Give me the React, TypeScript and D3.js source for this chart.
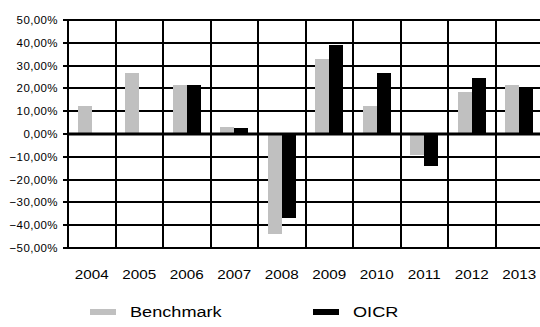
import React, { useEffect } from "react";
import * as d3 from "d3";

const years = ["2004", "2005", "2006", "2007", "2008", "2009", "2010", "2011", "2012", "2013"];
const seriesNames = ["Benchmark", "OICR"];
const benchmark: (number | null)[] = [12.3, 26.9, 21.5, 3.0, -44.0, 32.7, 12.3, -9.2, 18.6, 21.5];
const oicr: (number | null)[] = [null, null, 21.5, 2.8, -36.7, 39.0, 26.6, -14.0, 24.7, 19.6];
const yTicks = [-50, -40, -30, -20, -10, 0, 10, 20, 30, 40, 50];
const colors = ["#c0c0c0", "#000000"];

const W = 540;
const H = 327;
const left = 68;
const right = 543;
const top = 20;
const bottom = 248;

export default function App() {
  useEffect(() => {
    document.body.style.margin = "0";
  }, []);

  const x = d3.scaleBand<string>().domain(years).range([left, right]).paddingInner(0).paddingOuter(0);
  const y = d3.scaleLinear().domain([-50, 50]).range([bottom, top]);
  const yr = (v: number) => Math.round(y(v));
  const bw = x.bandwidth();
  const x1 = d3.scaleBand<string>().domain(seriesNames).range([(bw - 28) / 2, (bw + 28) / 2]);
  const fmt = (v: number) => d3.format(".2f")(v).replace(".", ",") + "%";
  const data = [benchmark, oicr];
  const font = "'Liberation Sans', Arial, sans-serif";

  return (
    <svg width={W} height={H} style={{ position: "absolute", left: 0, top: 0, background: "#fff" }}>
      {yTicks.map((t) => (
        <line key={"h" + t} x1={left - 5} x2={W} y1={yr(t)} y2={yr(t)} stroke="#000" strokeWidth={2} />
      ))}
      {years.map((yy) => (
        <line
          key={"v" + yy}
          x1={Math.round(x(yy)!)}
          x2={Math.round(x(yy)!)}
          y1={top}
          y2={bottom}
          stroke="#000"
          strokeWidth={2}
        />
      ))}
      {data.map((arr, si) =>
        arr.map((v, i) =>
          v === null ? null : (
            <rect
              key={si + "-" + i}
              x={Math.round(x(years[i])! + x1(seriesNames[si])!)}
              width={Math.round(x1.bandwidth())}
              y={yr(Math.max(0, v))}
              height={Math.abs(yr(v) - yr(0))}
              fill={colors[si]}
            />
          )
        )
      )}
      <line x1={left} x2={W} y1={yr(0)} y2={yr(0)} stroke="#000" strokeWidth={3} />
      {yTicks.map((t) => (
        <text
          key={"l" + t}
          x={58}
          y={yr(t)}
          dy="0.35em"
          textAnchor="end"
          fontFamily={font}
          fontSize={11.5}
          letterSpacing={0.4}
          fill="#000"
        >
          {fmt(t)}
        </text>
      ))}
      {years.map((yy) => (
        <text
          key={"x" + yy}
          transform={`translate(${x(yy)! + bw / 2},279) scale(1.22,1)`}
          textAnchor="middle"
          fontFamily={font}
          fontSize={12.5}
          fill="#000"
        >
          {yy}
        </text>
      ))}
      {seriesNames.map((s, i) => (
        <g key={"lg" + s} transform={`translate(${i === 0 ? 90 : 313},0)`}>
          <rect x={0} y={309} width={26} height={6} fill={colors[i]} />
          <text transform="translate(40,317) scale(1.21,1)" fontFamily={font} fontSize={15} fill="#000">
            {s}
          </text>
        </g>
      ))}
    </svg>
  );
}
